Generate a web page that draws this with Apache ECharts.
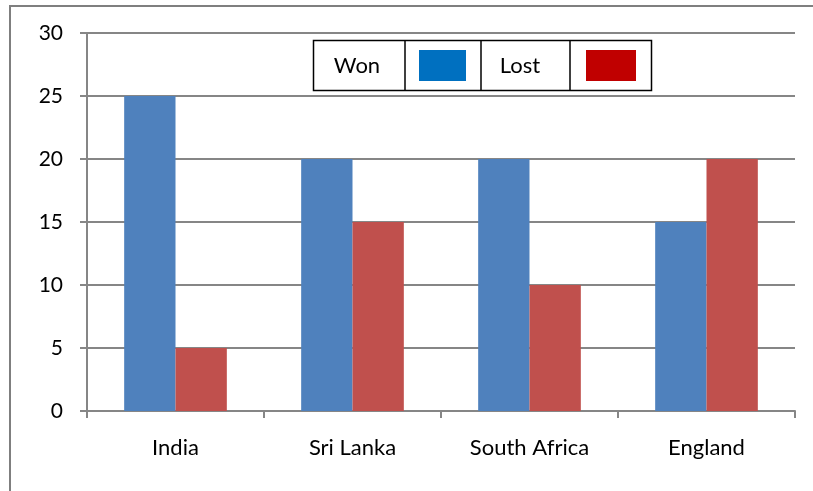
<!DOCTYPE html>
<html><head><meta charset="utf-8">
<script src="https://cdn.jsdelivr.net/npm/echarts@6/dist/echarts.min.js"></script>
<style>html,body{margin:0;padding:0;background:#fff}#c{width:813px;height:491px}</style>
</head><body><div id="c"></div>
<script>
const categories = ["India", "Sri Lanka", "South Africa", "England"];
const wonValues = [25, 20, 20, 15];
const lostValues = [5, 15, 10, 20];
const yTicks = [0, 5, 10, 15, 20, 25, 30];
const legendLabels = ["Won", "Lost"];

const FONT = "Lato";
const chart = echarts.init(document.getElementById('c'), null, {renderer: 'canvas'});
const gray = '#868686';
chart.setOption({
  animation: false,
  grid: {left: 87, right: 18, top: 33, bottom: 80, containLabel: false},
  xAxis: {
    type: 'category', data: categories,
    axisLine: {lineStyle: {color: gray, width: 2}},
    axisTick: {show: true, length: 7, lineStyle: {color: gray, width: 2}},
    axisLabel: {color: '#000', fontFamily: FONT, fontSize: 22, margin: 26}
  },
  yAxis: {
    type: 'value', min: yTicks[0], max: yTicks[yTicks.length-1], interval: 5,
    axisLine: {show: true, lineStyle: {color: gray, width: 2}},
    axisTick: {show: true, length: 7, lineStyle: {color: gray, width: 2}},
    splitLine: {lineStyle: {color: gray, width: 2}},
    axisLabel: {color: '#000', fontFamily: FONT, fontSize: 21, margin: 24}
  },
  series: [
    {name: legendLabels[0], type: 'bar', data: wonValues, barGap: '0%', barCategoryGap: '42%', itemStyle: {color: '#4F81BD'}},
    {name: legendLabels[1], type: 'bar', data: lostValues, barGap: '0%', barCategoryGap: '42%', itemStyle: {color: '#C0504D'}}
  ],
  graphic: [
    {type: 'rect', shape: {x: 10, y: 6, width: 820, height: 500}, style: {fill: 'none', stroke: '#7f7f7f', lineWidth: 2}, silent: true},
    {type: 'rect', shape: {x: 313.5, y: 40.5, width: 338, height: 50}, style: {fill: '#fff', stroke: '#000', lineWidth: 1.5}},
    {type: 'line', shape: {x1: 405, y1: 40.5, x2: 405, y2: 90.5}, style: {stroke: '#000', lineWidth: 1.5}},
    {type: 'line', shape: {x1: 481, y1: 40.5, x2: 481, y2: 90.5}, style: {stroke: '#000', lineWidth: 1.5}},
    {type: 'line', shape: {x1: 570, y1: 40.5, x2: 570, y2: 90.5}, style: {stroke: '#000', lineWidth: 1.5}},
    {type: 'text', style: {text: legendLabels[0], x: 357, y: 66, align: 'center', verticalAlign: 'middle', font: '22px ' + FONT, fill: '#000'}},
    {type: 'rect', shape: {x: 419, y: 50, width: 47, height: 31}, style: {fill: '#0070C0'}},
    {type: 'text', style: {text: legendLabels[1], x: 520, y: 66, align: 'center', verticalAlign: 'middle', font: '22px ' + FONT, fill: '#000'}},
    {type: 'rect', shape: {x: 586, y: 50, width: 50, height: 31}, style: {fill: '#C00000'}}
  ]
});
</script></body></html>
